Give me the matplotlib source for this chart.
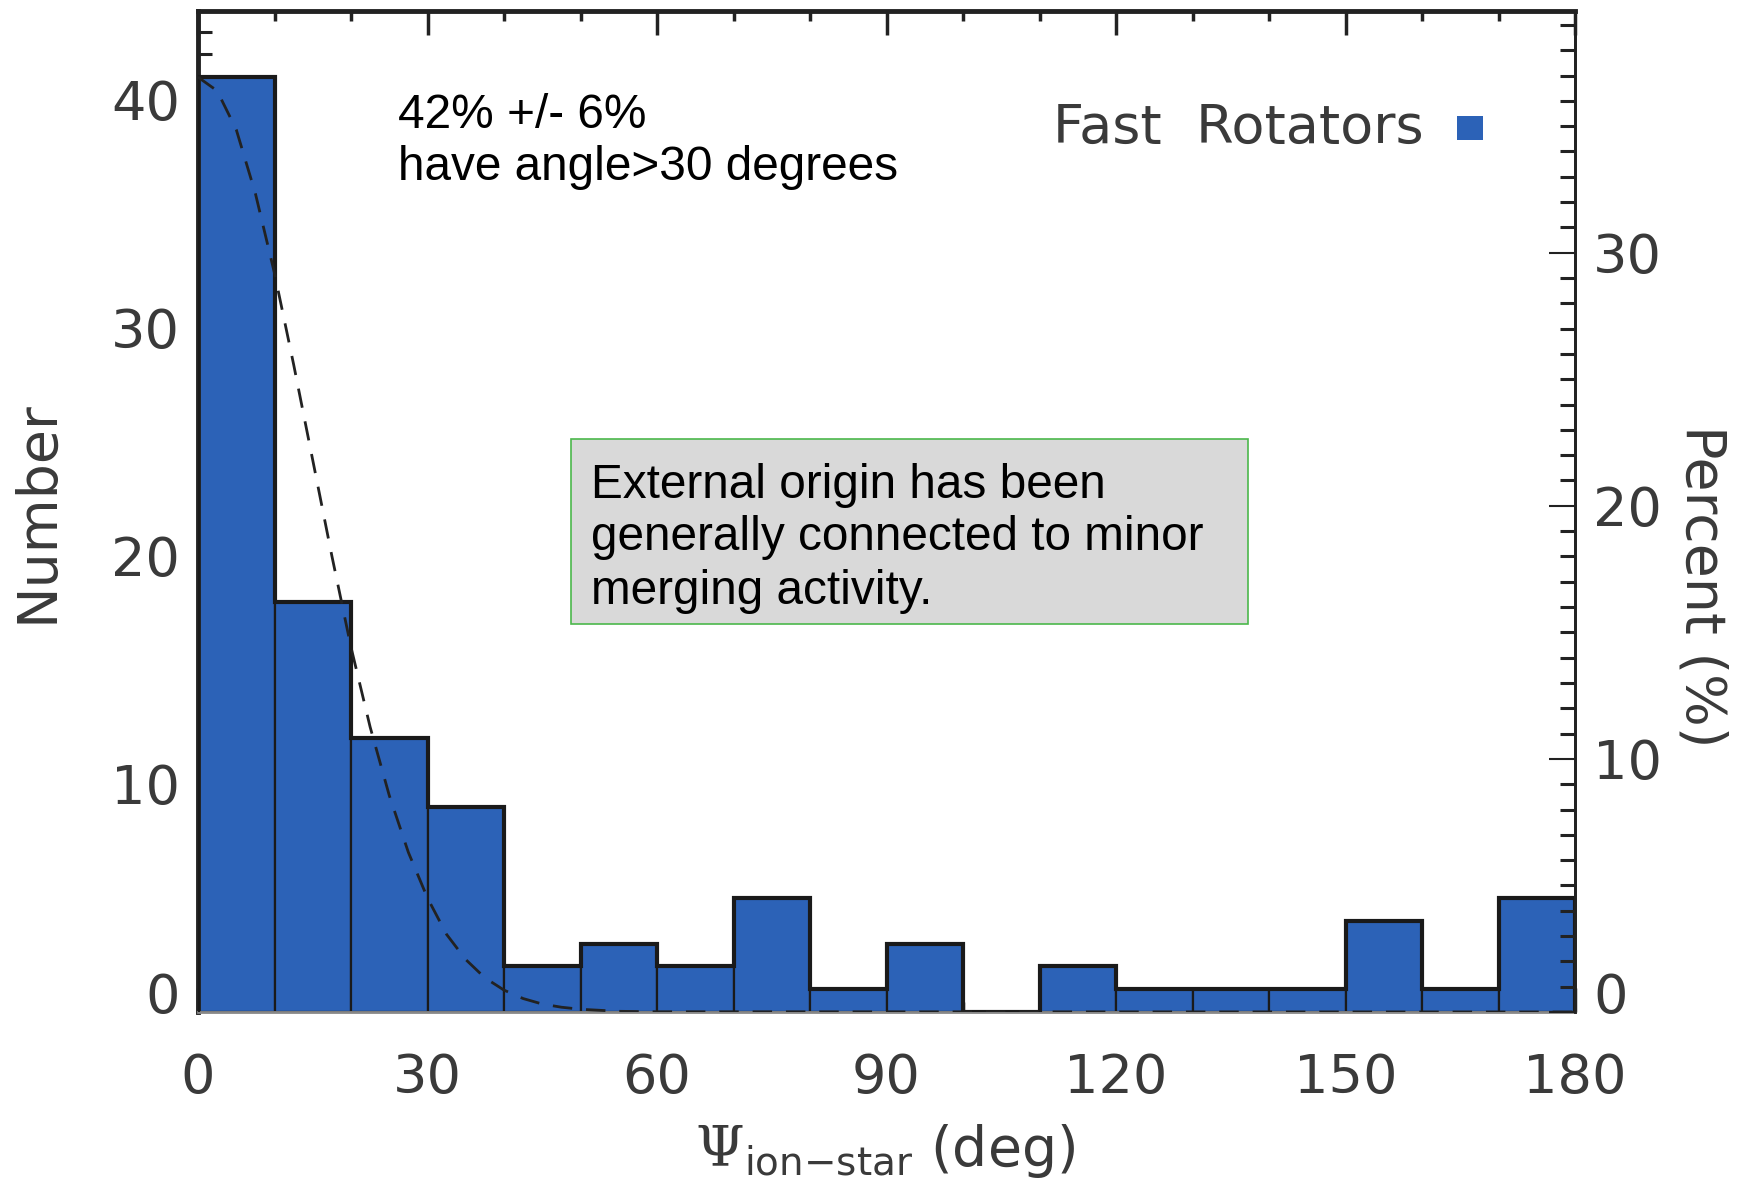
import numpy as np
import matplotlib
matplotlib.use("Agg")
import matplotlib.pyplot as plt
from matplotlib.patches import Rectangle
from matplotlib.ticker import MultipleLocator
import matplotlib.transforms as mtransforms

# histogram of misalignment angle, 10 deg bins
bin_edges = list(range(0, 190, 10))
counts = [41, 18, 12, 9, 2, 3, 2, 5, 1, 3, 0, 2, 1, 1, 1, 4, 1, 5]
n_total = 111

# dashed curve
curve_x = [0, 2.5, 5, 7.5, 10, 12.5, 15, 17.5, 20, 22.5, 25, 27.5, 30, 32.5,
           35, 37.5, 40, 42.5, 45, 47.5, 50, 55, 60, 180]
curve_y = [41, 40.4, 38.7, 35.9, 32.4, 28.4, 24.2, 20.0, 16.0, 12.5, 9.5, 7.0,
           5.0, 3.4, 2.3, 1.5, 0.96, 0.59, 0.35, 0.21, 0.12, 0.03, 0.01, 0.0]

xticks = [0, 30, 60, 90, 120, 150, 180]
num_ticks = [0, 10, 20, 30, 40]
pct_ticks = [0, 10, 20, 30]
note_lines = ["42% +/- 6%", "have angle>30 degrees"]
box_lines = ["External origin has been", "generally connected to minor",
             "merging activity."]

W, H = 1744, 1186
DPI = 100
bar_color = "#2c62b7"
label_color = "#3a3a3a"
tick_font = "DejaVu Sans"
fs = 39

plt.rcParams["mathtext.fontset"] = "custom"
plt.rcParams["mathtext.rm"] = "DejaVu Serif"
plt.rcParams["mathtext.sf"] = "DejaVu Sans"

fig = plt.figure(figsize=(W / DPI, H / DPI), dpi=DPI)
ax = fig.add_axes([198 / W, (H - 1012) / H, (1575 - 198) / W, (1012 - 11) / H])

ymax = 43.9
centers = [(a + b) / 2 for a, b in zip(bin_edges[:-1], bin_edges[1:])]
ax.bar(centers, counts, width=10, color=bar_color, edgecolor="#1a1a1a",
       linewidth=1.6, zorder=2)
ax.stairs(counts, bin_edges, color="#1a1a1a", linewidth=3, zorder=3)
ax.plot(curve_x, curve_y, color="#222222", linestyle=(0, (7, 5)),
        linewidth=2, zorder=4)

ax.set_xlim(0, 180)
ax.set_ylim(0, ymax)

for side in ["top", "left"]:
    ax.spines[side].set_linewidth(3.5)
    ax.spines[side].set_color("#222222")
ax.spines["right"].set_linewidth(2)
ax.spines["right"].set_color("#222222")
ax.spines["bottom"].set_linewidth(2)
ax.spines["bottom"].set_color("#888888")

ax.set_xticks(xticks)
ax.set_yticks(num_ticks)
ax.xaxis.set_minor_locator(MultipleLocator(10))
ax.yaxis.set_minor_locator(MultipleLocator(1))
ax.tick_params(axis="x", which="both", direction="in", top=True, bottom=True,
               colors="#222222", labelcolor=label_color, labelsize=fs, pad=29)
ax.tick_params(axis="x", which="major", length=17, width=2.5)
ax.tick_params(axis="x", which="minor", length=7, width=2.5)
ax.tick_params(axis="y", which="both", direction="in", right=False,
               colors="#222222", labelcolor=label_color, labelsize=fs, pad=13)
ax.tick_params(axis="y", which="major", length=20, width=1.5)
ax.tick_params(axis="y", which="minor", length=10, width=2.2)
for lab in ax.get_xticklabels() + ax.get_yticklabels():
    lab.set_fontfamily(tick_font)

# lift the zero label like the original
offset = mtransforms.ScaledTranslation(0, 20 / DPI, fig.dpi_scale_trans)
zero_lab = ax.get_yticklabels()[0]
zero_lab.set_transform(zero_lab.get_transform() + offset)

ax2 = ax.twinx()
ax2.set_ylim(0, ymax / n_total * 100)
ax2.set_yticks(pct_ticks)
ax2.yaxis.set_minor_locator(MultipleLocator(1))
ax2.tick_params(axis="y", which="both", direction="in", colors="#222222",
                labelcolor=label_color, labelsize=fs, pad=13)
ax2.tick_params(axis="y", which="major", length=19, width=1.5)
ax2.tick_params(axis="y", which="minor", length=11, width=2.2)
for side in ["top", "left", "bottom"]:
    ax2.spines[side].set_visible(False)
ax2.spines["right"].set_linewidth(2)
ax2.spines["right"].set_color("#222222")
for lab in ax2.get_yticklabels():
    lab.set_fontfamily(tick_font)
zero_lab2 = ax2.get_yticklabels()[0]
zero_lab2.set_transform(zero_lab2.get_transform() + offset)

ax.set_ylabel("Number", fontsize=fs + 1, family=tick_font, color=label_color,
              va="center")
ax.yaxis.set_label_coords(-0.117, 0.5)
ax2.set_ylabel("Percent (%)", fontsize=fs + 1, family=tick_font,
               color=label_color, rotation=-90, va="center")
ax2.yaxis.set_label_coords(1.092, 0.4256)
ax.set_xlabel(r"$\Psi_{\mathsf{ion{-}star}}$ (deg)", fontsize=fs + 1,
              family=tick_font, color=label_color, va="center")
ax.xaxis.set_label_coords(0.499, -0.139)

# legend entry
fig.text(1424 / W, 1 - 128 / H, "Fast  Rotators", fontsize=fs,
         family=tick_font, color=label_color, ha="right", va="center")
fig.patches.append(Rectangle((1457 / W, 1 - 140 / H), 26 / W, 24 / H,
                             transform=fig.transFigure, facecolor=bar_color,
                             edgecolor="none", figure=fig))

# annotations
fig.text(398 / W, 1 - 115 / H, note_lines[0], fontsize=34.4,
         family="Liberation Sans", color="black", va="center")
fig.text(398 / W, 1 - 168 / H, note_lines[1], fontsize=34.4,
         family="Liberation Sans", color="black", va="center")

fig.patches.append(Rectangle((571 / W, 1 - 624 / H), 677 / W, 185 / H,
                             transform=fig.transFigure, facecolor="#d9d9d9",
                             edgecolor="#4cb84c", linewidth=1.2, figure=fig,
                             zorder=5))
for i, line in enumerate(box_lines):
    fig.text(591 / W, 1 - (485 + 53 * i) / H, line, fontsize=34.4,
             family="Liberation Sans", color="black", va="center", zorder=6)

fig.savefig("out.png", dpi=DPI)
